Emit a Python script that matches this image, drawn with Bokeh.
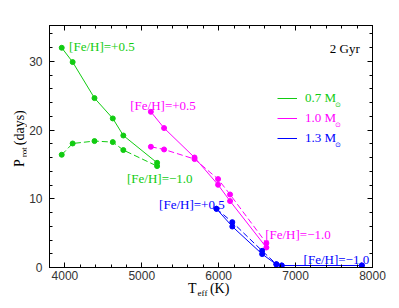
import math
from bokeh.plotting import figure
from bokeh.models import (Label, Legend, LegendItem, LinearAxis, Range1d,
                          FixedTicker, ColumnDataSource, Div,
                          CustomJSTickFormatter)
from bokeh.layouts import row, column
from bokeh.embed import file_html
from bokeh.resources import INLINE

# ---- data ----
teff_07_p05 = [3959, 4101, 4385, 4623, 4760, 5199]
prot_07_p05 = [31.96, 29.88, 24.64, 21.68, 19.2, 15.23]
teff_07_m10 = [3959, 4101, 4385, 4623, 4760, 5199]
prot_07_m10 = [16.4, 18.04, 18.39, 18.24, 17.08, 14.75]

teff_10_p05 = [5118, 5290, 5686, 5992, 6148, 6620]
prot_10_p05 = [22.65, 20.28, 16.0, 12.03, 9.66, 2.91]
teff_10_m10 = [5118, 5290, 5686, 5992, 6148, 6620]
prot_10_m10 = [17.56, 17.17, 15.77, 12.86, 10.62, 3.55]

teff_13_p05 = [5971, 6177, 6565, 6750, 6819, 7861]
prot_13_p05 = [8.54, 5.96, 1.95, 0.45, 0.29, 0.29]
teff_13_m10 = [5971, 6177, 6565, 6750, 6819, 7861]
prot_13_m10 = [8.54, 6.6, 2.43, 0.49, 0.29, 0.29]

x_ticks = [4000, 5000, 6000, 7000, 8000]
x_minor = list(range(3800, 8001, 200))
y_ticks = [0, 10, 20, 30]
y_minor = list(range(0, 36, 2))

mass_labels = ["0.7 M", "1.0 M", "1.3 M"]
feh_plus = "[Fe/H]=+0.5"
feh_minus = "[Fe/H]=\u22121.0"

GREEN = "#11cc11"
MAGENTA = "#ff00ff"
BLUE = "#0000ff"
SERIF = "Liberation Serif"
SANS = "Liberation Sans"

p = figure(width=373, height=285, output_backend="svg", toolbar_location=None,
           x_range=Range1d(3800, 8000), y_range=Range1d(0, 35.2),
           min_border_left=21, min_border_right=27, min_border_top=25,
           min_border_bottom=18)
p.grid.visible = False
p.outline_line_color = "black"
p.outline_line_width = 1
p.background_fill_color = "white"
p.border_fill_color = "white"

# axes (mirrored ticks on top and right)
top_ax = LinearAxis()
right_ax = LinearAxis()
p.add_layout(top_ax, "above")
p.add_layout(right_ax, "right")
for ax in p.xaxis:
    ax.ticker = FixedTicker(ticks=x_ticks, minor_ticks=x_minor)
for ax in p.yaxis:
    ax.ticker = FixedTicker(ticks=y_ticks, minor_ticks=y_minor)
for ax in p.axis:
    ax.major_tick_in = 5
    ax.major_tick_out = 0
    ax.minor_tick_in = 3
    ax.minor_tick_out = 0
    ax.axis_line_color = "black"
    ax.major_tick_line_color = "black"
    ax.minor_tick_line_color = "black"
    ax.major_label_text_font = SANS
    ax.major_label_text_font_size = "12px"
    ax.major_label_text_color = "#333333"
for ax in (top_ax, right_ax):
    ax.formatter = CustomJSTickFormatter(code="return ''")
    ax.major_label_standoff = 0
p.below[0].major_label_standoff = 3
p.left[0].major_label_standoff = 7

# series
series = [
    (teff_07_p05, prot_07_p05, GREEN, "solid"),
    (teff_07_m10, prot_07_m10, GREEN, "6 3"),
    (teff_10_p05, prot_10_p05, MAGENTA, "solid"),
    (teff_10_m10, prot_10_m10, MAGENTA, "6 3"),
    (teff_13_p05, prot_13_p05, BLUE, "solid"),
    (teff_13_m10, prot_13_m10, BLUE, "6 3"),
]
solid_renderers = []
for tx, py, col, dash in series:
    src = ColumnDataSource(dict(x=tx, y=py))
    r = p.line("x", "y", source=src, line_color=col, line_width=1, line_dash=dash)
    p.scatter("x", "y", source=src, size=5, fill_color=col, line_color=col)
    if dash == "solid":
        solid_renderers.append(r)

# legends (one per mass, coloured text)
colors = [GREEN, MAGENTA, BLUE]
bottoms = [158.7, 138.7, 118.7]
for lab, r, col, b in zip(mass_labels, solid_renderers, colors, bottoms):
    lg = Legend(items=[LegendItem(label=lab, renderers=[r])],
                location=(228, b), orientation="vertical",
                padding=0, margin=0, spacing=0,
                glyph_width=20, glyph_height=20, label_height=20,
                label_standoff=8, border_line_color=None,
                background_fill_alpha=0,
                label_text_font=SERIF, label_text_font_size="13px",
                label_text_color=col)
    p.add_layout(lg)

sun_y = [23.64, 20.73, 17.82]
for col, yy in zip(colors, sun_y):
    p.add_layout(Label(x=7514, y=yy, text="\u2299", text_font="DejaVu Sans",
                       text_font_size="7px", text_color=col,
                       text_baseline="alphabetic", text_align="left"))

# series annotations
ann = [
    (4055, 32.09, feh_plus, GREEN, "left"),
    (4850, 23.62, feh_plus, MAGENTA, "left"),
    (4808, 12.95, feh_minus, GREEN, "left"),
    (5225, 9.12, feh_plus, BLUE, "left"),
    (6604, 4.86, feh_minus, MAGENTA, "left"),
    (7104, 1.22, feh_minus, BLUE, "left"),
    (7835, 31.9, "2 Gyr", "black", "right"),
]
for x, y, t, col, al in ann:
    p.add_layout(Label(x=x, y=y, text=t, text_font=SERIF, text_font_size="13px",
                       text_color=col, text_align=al, text_baseline="alphabetic"))

# axis titles as real HTML text (with subscripts)
font_css = "font-family:'Liberation Serif',serif;color:black;white-space:nowrap;"
ylabel_html = (
    '<div style="position:relative;width:26px;height:308px;">'
    '<div style="position:absolute;left:13.3px;top:167px;font-size:14px;'
    'line-height:14px;transform:rotate(-90deg);transform-origin:0 0;' + font_css + '">'
    'P<span style="font-size:9px;position:relative;top:2.5px;margin-left:2px;">rot</span>'
    '<span style="margin-left:2px;">(days)</span></div></div>'
)
xlabel_html = (
    '<div style="position:relative;width:373px;height:23px;">'
    '<div style="position:absolute;left:162px;top:0px;font-size:14px;'
    'line-height:8px;' + font_css + '">'
    'T<span style="font-size:9px;position:relative;top:2.7px;margin-left:1px;">eff</span>'
    '<span style="margin-left:2.5px;">(K)</span></div></div>'
)
ydiv = Div(text=ylabel_html, width=26, height=308, margin=0)
xdiv = Div(text=xlabel_html, width=373, height=23, margin=0)

layout = row(ydiv, column(p, xdiv, spacing=0), spacing=0)
open("out.html", "w").write(file_html(layout, INLINE))
